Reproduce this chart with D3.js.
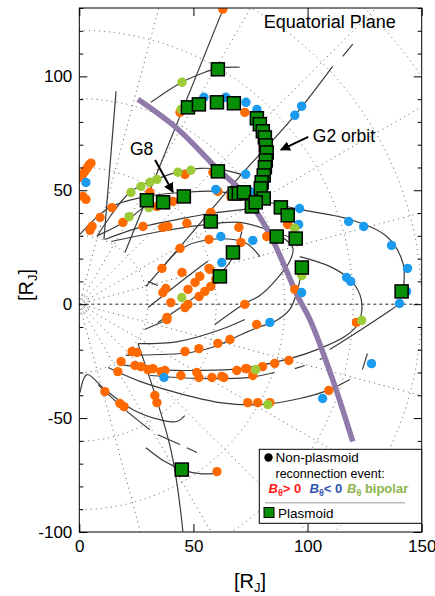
<!DOCTYPE html>
<html>
<head>
<meta charset="utf-8">
<script src="https://cdn.jsdelivr.net/npm/d3@7"></script>
<style>
  body { margin: 0; background: #fff; }
  svg text { font-family: "Liberation Sans", Arial, sans-serif; }
</style>
</head>
<body>
<svg id="chart" width="435" height="596"></svg>
<script>
// axis ticks
const xTicks = [0, 50, 100, 150];
const yTicks = [-100, -50, 0, 50, 100];

// Galileo trajectory pieces [x, y] in R_J
const orbits = [
  [[63, 129.5], [20, 22.7]],
  [[16.1, 93.4], [10.8, 28.4]],
  [[0.3, 30.6], [13.4, 42.5], [29.6, 47.3], [46.3, 49.1], [60.3, 49.5], [73.8, 46.9], [96.6, 41.6], [118.5, 37.2], [134.7, 29.7], [141.7, 18.3], [142.1, 7.8]],
  [[31.4, 88.6], [44.9, 97.4], [55, 101.8], [60.7, 103.6], [70.3, 104]],
  [[29.2, 7.8], [48.4, 30.2], [70.3, 56.1], [94.4, 82.9], [111, 104.4]],
  [[115.4, 108.8], [119.8, 114.1]],
  [[7.7, 29.7], [22.2, 49.1], [33.6, 54.8], [44.1, 58.3], [52.8, 59.6], [61.6, 59.2], [71.2, 57]],
  [[8.2, 30.2], [20, 36.3], [29.6, 43.8]],
  [[11.2, 28.4], [26.6, 33.7], [43.2, 37.2], [57.2, 39.8], [72.5, 41.6]],
  [[14, 27.5], [35.3, 31.9], [52.8, 34.6], [70.3, 35.9], [84.7, 31.9], [94, 28.8]],
  [[34.4, -8], [46.2, -0.1], [57.2, 8.7], [67.3, 20.5], [71.2, 31.9]],
  [[30.1, -1.5], [49.7, 13.9], [56.3, 18.8]],
  [[30.1, 10], [34.4, 8.2]],
  [[35.3, 14.3], [44.1, 24], [57.2, 28.4], [72.5, 27.1], [79.1, 20.9]],
  [[85.6, 31.4], [93.5, 24.9], [92.2, 18.8], [85.6, 10], [79.1, 3.8], [72.5, 0.3], [59.4, -8.9]],
  [[96.6, 20.9], [109.7, 16.6], [118.5, 10.9], [122.9, 4.3], [123.8, -2.3], [122, -8.9], [116.3, -14.2], [105.3, -19.5], [92.2, -23.9], [70.3, -28.3], [52.8, -29.1], [35.3, -28.7], [18.3, -26.5]],
  [[20.4, -22.5], [35.3, -22.1], [48.9, -21.2], [59.4, -18.6], [68.2, -14.6], [78.2, -10.2], [85.6, -7.6], [92.2, -2.3], [95.7, 6.5], [97.5, 16.1]],
  [[25.7, -17.3], [43.2, -16.4], [62, -11.1], [72.5, -6.7]],
  [[28.6, -11.1], [38.8, -6.7]],
  [[30.9, -31.3], [52.8, -32.6], [73.8, -32.2], [85.6, -30]],
  [[94.4, -28.3], [98.8, -26.9]],
  [[105.3, -24.3], [108.4, -23]],
  [[109.7, -19.9], [124.9, -10.2], [136.8, -2.3], [141.2, 0.7]],
  [[12.6, -27.8], [26.6, -33.9], [41, -38.4], [61.6, -43.2], [79.1, -44.1], [96.6, -41.4], [109.7, -37.5], [118.5, -33.1]],
  [[0.3, -38.8], [3.4, -30.9], [11.2, -37.5], [23.5, -46.3], [35.3, -50.7], [42.7, -51.5], [46.2, -48.9]],
  [[8.2, -35.3], [20, -46.3], [30.9, -55.1]],
  [[25.7, -17.3], [40.1, -63.8], [45.4, -99.9]],
  [[34.4, -57.3], [44.1, -61.6]],
  [[47.1, -63], [51.5, -65.1]],
  [[29.2, -63], [37.5, -69.1], [44.9, -72.6], [52.8, -74.4], [58.5, -74.4]],
  [[124, -28.7], [126.2, -21.7]]
];

// thick purple curve
const xLine = [[25.7, 89.9], [43.2, 76.8], [60.7, 59.2], [71.6, 49.1], [83.5, 30.6], [95.7, 3.4], [101, -6.7], [111, -33.1], [119.8, -60.3]];

// non-plasmoid events, B_theta > 0
const posEvents = [
  [62.9, 129.5], [44.1, 84.2], [72.5, 84.2],
  [0.7, 55.7], [1.6, 57.1], [2.5, 58.4], [3.4, 59.7], [4.2, 61], [5.1, 61.9], [1.6, 47.3], [2.9, 46],
  [30.9, 49.1], [14.3, 42.4], [9.1, 38.1], [5.6, 34.2], [4.7, 32.4], [19.1, 35.9], [27.9, 34.1],
  [36.6, 33.7], [38.8, 34.1], [47.1, 35.5], [57.6, 40.3], [34, 42.9], [41, 45.1], [58.5, 57.9],
  [60.7, 49.5], [46.3, 56.9], [44.1, 24.5], [36.2, 15.7], [45, 13.9], [52.8, 12.2], [57.2, 15.3],
  [56.8, 28.4], [70.8, 27.1], [69.9, 33.7], [66.4, 47.3], [56.8, 15.7], [50.7, 9.5], [55, 5.6],
  [52.5, 3.4], [47.6, 6.5], [47.6, -0.1], [46.3, -1.5], [37.9, 6.9], [36.6, 5.1], [40.1, 0.7],
  [38.4, -5.8], [72.5, -0.1], [59.8, 10.9], [57.6, 7.8], [82.1, 29.7], [91.3, 35], [94.4, 6.5],
  [121.4, -8], [77.7, -8.9], [60.7, -17.2], [66, -15.5], [69, -29.1], [73.3, -28.3], [76, -31.3],
  [80.3, -27.4], [85.6, -26], [91.8, -24.7], [62.4, -31.7], [109.3, -37.9], [73.8, -43.2],
  [78.2, -43.2], [83.5, -43.2], [60.3, -73.5], [38.4, -6.8], [23.1, -20.8], [25.3, -21.2],
  [46.3, -20.8], [52.4, -19.5], [18.3, -25.2], [16.9, -29.6], [24.4, -26.9], [27, -27.4],
  [30.1, -28.7], [32.3, -28.3], [35.8, -29.6], [37.5, -29.1], [44.5, -31.3], [51.5, -30],
  [52.4, -32.2], [58.1, -32.2], [63.3, -32.2], [72.9, -28.3], [11.2, -38.4], [17.8, -43.6],
  [19.6, -45], [33.1, -40.1], [34, -43.2]
];

// non-plasmoid events, B_theta < 0
const negEvents = [
  [2.9, 53.4], [54.6, 90.8], [64.2, 90.8], [73, 88.6], [77.8, 85.5], [97.4, 86.9], [94.4, 82.9],
  [72.9, 57], [74.7, 49.5], [59.8, 50.4], [62, 29.7], [62.4, 18.3], [96.5, 42], [118, 36.3],
  [124.6, 34.1], [136.8, 25.8], [143.8, 15.7], [143.4, 5.6], [140.3, 0.3], [96.1, 35], [76, 28],
  [97.4, 5.1], [117.1, 11.7], [118.9, 10], [83.5, -8], [128, -26.1], [106.6, -41.4], [37.1, -32.2]
];

// non-plasmoid events, bipolar
const bipolarEvents = [
  [45, 97.4], [44.6, 85.5], [22.6, 49], [27, 51.7], [30.9, 53.5], [34, 54.8], [43.2, 57.9],
  [48.9, 58.8], [21.8, 38.4], [30.5, 42.4], [94.4, 33.3], [97.5, 12.6], [123.7, -7.1],
  [44.9, 2.9], [77.3, -28.7], [82.6, -44.1]
];

// plasmoids
const plasmoids = [
  [60.7, 103.1], [47.6, 86.4], [52.4, 87.7], [60.3, 88.6], [67.7, 88.2], [77.8, 81.6], [79.1, 79],
  [80.4, 75.9], [81.3, 73.2], [81.7, 69.7], [82.1, 66.6], [81.7, 63.1], [81.3, 60.1], [80.8, 56.5],
  [79.9, 53.5], [79.5, 50.8], [80.8, 46.4], [68.1, 48.6], [69.9, 48.6], [72.1, 49.1], [75.6, 42.9],
  [77.3, 44.7], [88.3, 42.5], [91.3, 39], [86.5, 29.7], [94.8, 28.8], [97.5, 16.1], [141.2, 5.6],
  [60.7, 58.3], [29.6, 45.6], [36.7, 44.7], [45.8, 47.3], [57.6, 36.3], [67.3, 22.7], [61.6, 12.2],
  [44.9, -72.6]
];

const svg = d3.select("#chart");
const pL = 79.3, pR = 421.7, pT = 8, pB = 532;
const x = d3.scaleLinear().domain([0, 150]).range([pL, pR]);
const y = d3.scaleLinear().domain([-100, 130]).range([pB, pT]);

svg.append("clipPath").attr("id", "clip")
  .append("rect").attr("x", pL).attr("y", pT)
  .attr("width", pR - pL).attr("height", pB - pT);

const plot = svg.append("g").attr("clip-path", "url(#clip)");

// local time / radial distance grid
const grid = plot.append("g")
  .attr("stroke", "#555").attr("stroke-width", 1)
  .attr("stroke-dasharray", "1,4").attr("fill", "none");
d3.range(-90, 91, 15).filter(a => a !== 0).forEach(a => {
  const r = a * Math.PI / 180;
  grid.append("line")
    .attr("x1", x(0)).attr("y1", y(0))
    .attr("x2", x(260 * Math.cos(r))).attr("y2", y(260 * Math.sin(r)));
});
d3.range(30, 240, 30).forEach(R => {
  grid.append("circle").attr("cx", x(0)).attr("cy", y(0))
    .attr("r", x(R) - x(0));
});
grid.append("circle").attr("cx", x(0)).attr("cy", y(0)).attr("r", x(4) - x(0))
  .attr("stroke-dasharray", "1,2");
plot.append("line")
  .attr("x1", x(0)).attr("x2", x(150)).attr("y1", y(0)).attr("y2", y(0))
  .attr("stroke", "#222").attr("stroke-dasharray", "3,3");

// trajectories
const line = d3.line().x(d => x(d[0])).y(d => y(d[1])).curve(d3.curveCatmullRom);
plot.append("g").selectAll("path").data(orbits).enter().append("path")
  .attr("d", line).attr("fill", "none").attr("stroke", "#3a3a3a").attr("stroke-width", 1.2);

plot.append("path").datum(xLine).attr("d", line)
  .attr("fill", "none").attr("stroke", "#8f7aa9").attr("stroke-width", 5.5);

// events
const dotSets = [[posEvents, "#ff6a00"], [negEvents, "#1a9bef"], [bipolarEvents, "#9ccb38"]];
dotSets.forEach(([data, col]) => {
  plot.append("g").selectAll("circle").data(data).enter().append("circle")
    .attr("cx", d => x(d[0])).attr("cy", d => y(d[1])).attr("r", 4.7).attr("fill", col);
});
const sq = 13;
plot.append("g").selectAll("rect").data(plasmoids).enter().append("rect")
  .attr("x", d => x(d[0]) - sq / 2).attr("y", d => y(d[1]) - sq / 2)
  .attr("width", sq).attr("height", sq)
  .attr("fill", "#078f07").attr("stroke", "#000").attr("stroke-width", 1.5);

// frame and ticks
svg.append("rect").attr("x", pL).attr("y", pT)
  .attr("width", pR - pL).attr("height", pB - pT)
  .attr("fill", "none").attr("stroke", "#000");

const fmt = d => String(d);
svg.append("g").attr("transform", `translate(0,${pB})`)
  .call(d3.axisBottom(x).tickValues(xTicks).tickSizeInner(-8).tickSizeOuter(0).tickPadding(8).tickFormat(fmt));
svg.append("g").attr("transform", `translate(0,${pT})`)
  .call(d3.axisTop(x).tickValues(xTicks).tickSizeInner(-8).tickSizeOuter(0).tickFormat(""));
svg.append("g").attr("transform", `translate(${pL},0)`)
  .call(d3.axisLeft(y).tickValues(yTicks).tickSizeInner(-8).tickSizeOuter(0).tickPadding(7).tickFormat(fmt));
svg.append("g").attr("transform", `translate(${pR},0)`)
  .call(d3.axisRight(y).tickValues(yTicks).tickSizeInner(-8).tickSizeOuter(0).tickFormat(""));
const minor = d3.range(-90, 131, 10).filter(v => v % 50 !== 0);
svg.append("g").attr("transform", `translate(${pL},0)`)
  .call(d3.axisLeft(y).tickValues(minor).tickSizeInner(-4).tickSizeOuter(0).tickFormat(""));
svg.append("g").attr("transform", `translate(${pR},0)`)
  .call(d3.axisRight(y).tickValues(minor).tickSizeInner(-4).tickSizeOuter(0).tickFormat(""));
svg.selectAll(".domain").remove();
svg.selectAll(".tick line").attr("stroke", "#000");
svg.selectAll(".tick text").attr("font-size", "17px").attr("fill", "#000")
  .attr("font-family", "Liberation Sans, Arial, sans-serif");

// axis titles
const bx = svg.append("text").attr("x", 250).attr("y", 588).attr("text-anchor", "middle")
  .attr("font-size", "20px");
bx.append("tspan").text("[R");
bx.append("tspan").attr("font-size", "13px").attr("dy", 4).text("J");
bx.append("tspan").attr("dy", -4).text("]");
const ly = svg.append("text").attr("transform", "translate(33,285) rotate(-90)")
  .attr("text-anchor", "middle").attr("font-size", "20px");
ly.append("tspan").text("[R");
ly.append("tspan").attr("font-size", "13px").attr("dy", 4).text("J");
ly.append("tspan").attr("dy", -4).text("]");

// annotations
svg.append("text").attr("x", x(109.7)).attr("y", y(121.2)).attr("text-anchor", "middle")
  .attr("font-size", "18px").text("Equatorial Plane");
svg.append("defs").append("marker").attr("id", "ah")
  .attr("viewBox", "0 0 10 10").attr("refX", 9).attr("refY", 5)
  .attr("markerWidth", 5).attr("markerHeight", 5).attr("orient", "auto")
  .append("path").attr("d", "M0,0L10,5L0,10z").attr("fill", "#000");
const notes = [
  { label: "G2 orbit", tx: 102.3, ty: 71.2, from: [100.3, 73.4], to: [88.3, 67.7] },
  { label: "G8", tx: 22.2, ty: 65.5, from: [33.2, 63.3], to: [41, 49.2] }
];
notes.forEach(n => {
  svg.append("text").attr("x", x(n.tx)).attr("y", y(n.ty)).attr("font-size", "17.5px").text(n.label);
  svg.append("line").attr("x1", x(n.from[0])).attr("y1", y(n.from[1]))
    .attr("x2", x(n.to[0])).attr("y2", y(n.to[1]))
    .attr("stroke", "#000").attr("stroke-width", 2).attr("marker-end", "url(#ah)");
});

// legend
const lg = svg.append("g");
lg.append("rect").attr("x", 259.3).attr("y", 449.3).attr("width", 162.4).attr("height", 74)
  .attr("fill", "#fff").attr("stroke", "#000");
lg.append("circle").attr("cx", 268.5).attr("cy", 457.5).attr("r", 4.2).attr("fill", "#000");
lg.append("text").attr("x", 275.5).attr("y", 462).attr("font-size", "13.5px").text("Non-plasmoid");
lg.append("text").attr("x", 275.5).attr("y", 477.5).attr("font-size", "12.5px").text("reconnection event:");
const kinds = [[268.5, "#ff1a1a", "> 0"], [309.5, "#2f55b0", "< 0"], [347, "#8db34a", " bipolar"]];
kinds.forEach(([kx, col, rest]) => {
  const t = lg.append("text").attr("x", kx).attr("y", 493).attr("font-size", "13px")
    .attr("font-weight", "bold").attr("fill", col);
  t.append("tspan").attr("font-style", "italic").text("B");
  t.append("tspan").attr("font-size", "9px").attr("dy", 3).text("θ");
  t.append("tspan").attr("dy", -3).text(rest);
});
lg.append("line").attr("x1", 265).attr("x2", 405).attr("y1", 502.7).attr("y2", 502.7)
  .attr("stroke", "#bbb").attr("stroke-width", 1.5);
lg.append("rect").attr("x", 264).attr("y", 507.5).attr("width", 10).attr("height", 10)
  .attr("fill", "#078f07").attr("stroke", "#000").attr("stroke-width", 1);
lg.append("text").attr("x", 278).attr("y", 517.5).attr("font-size", "13.5px").text("Plasmoid");
</script>
</body>
</html>
